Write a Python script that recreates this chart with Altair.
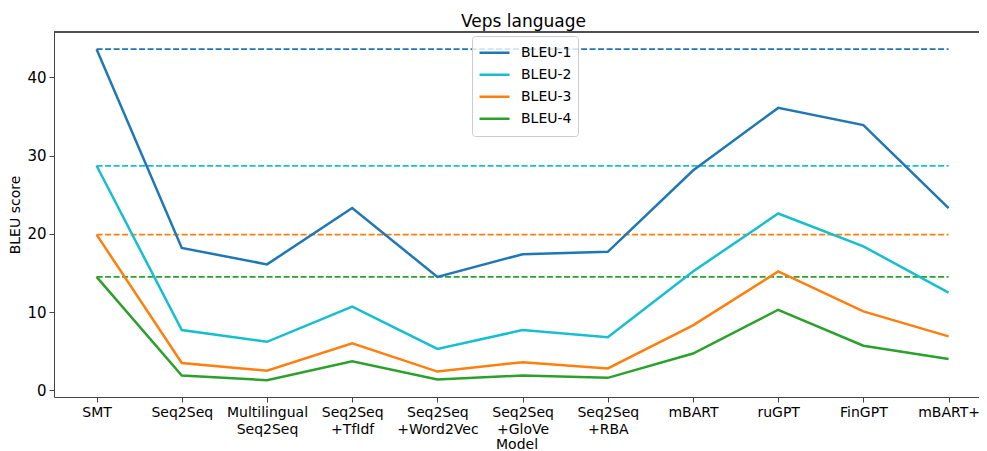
import json
import altair as alt
import pandas as pd

models = ["SMT", "Seq2Seq", "Multilingual\nSeq2Seq", "Seq2Seq\n+TfIdf", "Seq2Seq\n+Word2Vec",
          "Seq2Seq\n+GloVe", "Seq2Seq\n+RBA", "mBART", "ruGPT", "FinGPT", "mBART+"]
bleu1 = [43.6, 18.2, 16.1, 23.3, 14.5, 17.4, 17.7, 28.1, 36.1, 33.9, 23.3]
bleu2 = [28.7, 7.7, 6.2, 10.7, 5.3, 7.7, 6.8, 15.2, 22.6, 18.4, 12.5]
bleu3 = [19.9, 3.5, 2.5, 6.0, 2.4, 3.6, 2.8, 8.3, 15.2, 10.1, 6.9]
bleu4 = [14.5, 1.9, 1.3, 3.7, 1.4, 1.9, 1.6, 4.7, 10.3, 5.7, 4.0]
series_names = ["BLEU-1", "BLEU-2", "BLEU-3", "BLEU-4"]
colors = ["#1f77b4", "#17becf", "#ff7f0e", "#2ca02c"]

rows = []
for name, vals in zip(series_names, [bleu1, bleu2, bleu3, bleu4]):
    for i, v in enumerate(vals):
        rows.append({"idx": i, "series": name, "value": v})
df = pd.DataFrame(rows)

ref = pd.DataFrame({
    "baseline": series_names,
    "value": [bleu1[0], bleu2[0], bleu3[0], bleu4[0]],
    "x0": [0] * 4,
    "x1": [len(models) - 1] * 4,
})

W, H = 925, 365
FONT = "DejaVu Sans"
label_expr = "split(" + json.dumps(models) + "[datum.value], '\\n')"

xscale = alt.Scale(domain=[-0.5, 10.357], nice=False, zero=False)
yscale = alt.Scale(domain=[-0.85, 45.8], nice=False, zero=False)

dashes = alt.Chart(ref).mark_rule(strokeDash=[6, 2.5], strokeWidth=1.8).encode(
    x=alt.X("x0:Q", scale=xscale),
    x2="x1:Q",
    y=alt.Y("value:Q", scale=yscale),
    stroke=alt.Stroke("baseline:N", scale=alt.Scale(domain=series_names, range=colors),
                      legend=None),
)

lines = alt.Chart(df).mark_line(strokeWidth=2.5).encode(
    x=alt.X("idx:Q", scale=xscale, title="Model",
            axis=alt.Axis(values=list(range(len(models))), labelExpr=label_expr,
                          grid=False, labelFontSize=14, labelFont=FONT, labelColor="#000",
                          titleFont=FONT, titleFontSize=14, titleFontWeight="normal",
                          titleColor="#000", titlePadding=1, labelPadding=3,
                          tickSize=5, tickColor="#444", domainColor="#444",
                          labelLineHeight=17)),
    y=alt.Y("value:Q", scale=yscale, title="BLEU score",
            axis=alt.Axis(values=[0, 10, 20, 30, 40], grid=False, labelFontSize=15,
                          labelFont=FONT, labelColor="#000", titleFont=FONT,
                          titleFontSize=14, titleFontWeight="normal", titleColor="#000",
                          titlePadding=4, tickSize=5, tickColor="#444",
                          domainColor="#444", labelPadding=3)),
    color=alt.Color("series:N", scale=alt.Scale(domain=series_names, range=colors),
                    legend=alt.Legend(title=None, orient="none", legendX=418, legendY=4,
                                      symbolType="stroke", symbolSize=900,
                                      symbolStrokeWidth=2.5, clipHeight=21.5,
                                      labelFontSize=14, labelFont=FONT, labelColor="#000",
                                      labelOffset=10, padding=6,
                                      fillColor="rgba(255,255,255,0.8)",
                                      strokeColor="#cccccc", cornerRadius=3,
                                      rowPadding=0)),
)

top_border = alt.Chart(ref).mark_rule(color="#444", strokeWidth=1).encode(
    x=alt.value(0), x2=alt.value(W + 20), y=alt.value(0)
)

chart = alt.layer(dashes, lines, top_border).resolve_legend(
    color="independent", stroke="independent"
).properties(
    width=W, height=H,
    title=alt.TitleParams("Veps language", font=FONT, fontSize=17, fontWeight="normal",
                          color="#000", offset=1, dx=7),
    autosize=alt.AutoSizeParams(type="none"),
    padding={"left": 46, "top": 24, "right": 0, "bottom": 54},
).configure_view(stroke=None)

chart.save("out.html", embed_options={"renderer": "svg", "actions": False})
